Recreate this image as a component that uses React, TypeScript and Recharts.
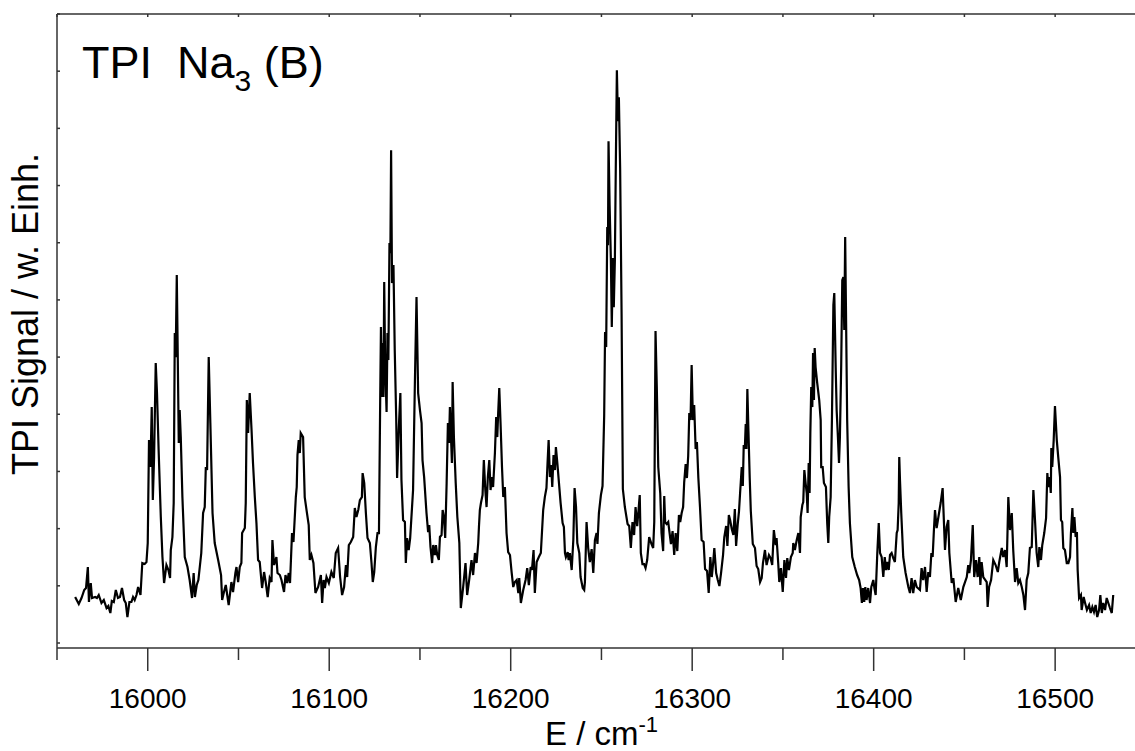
import React from 'react';
import { LineChart, Line, XAxis, YAxis } from 'recharts';

// TPI spectrum of Na3 (B): [energy / cm^-1, signal (arb. units)]
const SPECTRUM: [number, number][] = [
  [15960,46],[15962,39],[15963.5,45],[15965,53],[15966,55],[15967,76],[15967.6,41],[15968.6,60],[15969.3,45],[15971,46],
  [15972,45],[15973,48],[15974.5,40],[15975.8,43],[15977.3,35],[15978.3,37],[15979.4,30],[15980.2,42],[15981.3,41],[15982.4,53],
  [15983.6,45],[15984.7,46],[15985.8,55],[15987,43],[15987.9,40],[15988.8,26],[15989.9,41],[15991,41],[15991.9,46],[15992.8,43],
  [15993.8,48],[15994.7,56],[15996,48],[15997,80],[15998.3,79],[15999.3,81],[16000,100],[16000.7,203],[16001.5,176],[16002.2,236],
  [16002.8,143],[16003.5,186],[16004.4,280],[16005.1,250],[16006,193],[16007.2,126],[16008.1,86],[16009,60],[16010.3,78],[16011.4,73],
  [16012.3,65],[16012.7,93],[16013.6,106],[16014.3,140],[16014.9,310],[16015.4,286],[16016,368],[16016.5,293],[16017.1,200],[16017.6,233],
  [16018.2,206],[16019.1,146],[16020.4,86],[16021.9,76],[16023.1,63],[16024.4,45],[16025.3,70],[16026,46],[16027,58],[16027.9,63],
  [16029.5,90],[16030.5,130],[16031.4,136],[16032,176],[16032.7,173],[16033.6,286],[16034.5,220],[16035.7,130],[16036.9,100],[16038.8,83],
  [16040.4,68],[16041,43],[16042,51],[16043,58],[16044.6,38],[16046.1,61],[16047,51],[16048.3,70],[16048.9,76],[16049.8,61],
  [16050.7,76],[16051.6,80],[16052,110],[16053.5,115],[16054,140],[16054.6,243],[16055.3,210],[16056.2,250],[16057.2,213],[16058,180],
  [16059,146],[16059.9,120],[16060.8,83],[16061.7,81],[16063,55],[16064.1,71],[16065,61],[16066.1,46],[16067.2,65],[16068.2,61],
  [16068.7,103],[16069.6,78],[16070.9,86],[16071.5,70],[16072.8,68],[16073.7,63],[16075.1,51],[16075.9,68],[16076.8,60],[16077.7,70],
  [16078.4,60],[16079.5,110],[16080.3,101],[16081.6,146],[16082.1,156],[16082.5,188],[16083.2,203],[16083.8,190],[16084.3,210],[16085.6,206],
  [16086.5,146],[16087.5,133],[16088.7,118],[16089.3,83],[16090.2,88],[16091.3,80],[16092.4,50],[16093.9,56],[16095.4,68],[16096.1,40],
  [16096.9,63],[16097.6,55],[16098.5,66],[16099.8,60],[16101.2,71],[16102.5,65],[16103.6,90],[16104.9,95],[16106,66],[16107.1,48],
  [16108.2,56],[16109.2,78],[16109.9,66],[16110.8,98],[16111.9,101],[16113.2,106],[16114.1,135],[16115,126],[16116,133],[16116.9,143],
  [16118,146],[16118.4,170],[16119.3,160],[16120.2,130],[16121.1,105],[16122.4,100],[16123.3,80],[16124,61],[16124.8,71],[16125.7,96],
  [16126.6,110],[16127.4,110],[16128.1,246],[16128.5,316],[16129,246],[16129.4,300],[16129.9,246],[16130.3,361],[16130.8,280],[16131.6,231],
  [16132.1,310],[16132.6,283],[16133.2,400],[16133.7,390],[16134.1,493],[16134.6,360],[16135.4,378],[16136.1,293],[16136.9,226],[16137.4,165],
  [16138.3,213],[16139.2,250],[16139.8,163],[16140.7,123],[16141.7,121],[16142.2,80],[16142.9,105],[16143.8,93],[16144.6,105],[16146.2,153],
  [16147.2,260],[16148.1,346],[16149,250],[16150,233],[16150.9,220],[16151.4,183],[16152.3,166],[16153.6,130],[16154.5,111],[16155.1,118],
  [16155.8,96],[16156.7,80],[16157.3,98],[16158.2,88],[16158.8,98],[16159.5,88],[16160.4,83],[16161,106],[16161.9,108],[16162.5,133],
  [16163.2,126],[16163.9,105],[16164.7,160],[16165.4,220],[16166,200],[16166.5,236],[16167.1,206],[16167.6,180],[16168,261],[16168.7,206],
  [16169.7,160],[16170.6,126],[16171.7,100],[16172.5,35],[16173.8,56],[16175.1,80],[16176,48],[16177.1,63],[16178.4,83],[16179.3,68],
  [16180.3,90],[16181.2,80],[16182.1,100],[16182.5,116],[16183,133],[16183.6,140],[16184.5,148],[16185.2,183],[16186,153],[16186.7,136],
  [16187.4,166],[16188.2,183],[16188.9,153],[16189.6,166],[16190.3,156],[16191.3,190],[16192,226],[16192.6,206],[16193.1,230],[16193.7,255],
  [16194.4,220],[16195.2,176],[16195.9,146],[16196.8,156],[16197.7,110],[16198.6,91],[16199.6,88],[16200.5,71],[16201.4,56],[16202.3,61],
  [16203.3,63],[16204.2,50],[16204.7,65],[16205.6,40],[16206.9,53],[16208.2,63],[16209.1,75],[16210,58],[16211,76],[16211.7,73],
  [16212.6,93],[16213.3,50],[16214.3,81],[16215.5,86],[16216.6,90],[16217.9,133],[16218.8,146],[16219.7,155],[16220.3,180],[16220.9,203],
  [16221.6,166],[16222.3,178],[16222.9,156],[16223.6,188],[16224.4,173],[16224.9,196],[16225.7,180],[16226.6,160],[16227.5,140],[16228.6,120],
  [16229.3,116],[16229.9,90],[16230.4,86],[16231.4,91],[16231.9,83],[16232.6,90],[16233.6,73],[16234.5,103],[16235.2,155],[16236,136],
  [16236.7,100],[16237.8,90],[16238.5,66],[16239.7,55],[16240.5,53],[16240.9,61],[16241.8,121],[16242.7,95],[16243.6,81],[16244.6,94],
  [16245.5,70],[16246.4,103],[16247.3,110],[16247.8,99],[16248.6,130],[16249.7,148],[16250.6,157],[16251.5,227],[16252,311],[16252.6,296],
  [16253.2,416],[16253.6,398],[16253.9,502],[16254.5,438],[16255.2,383],[16255.7,316],[16256.3,385],[16256.8,336],[16257.4,383],[16257.9,475],
  [16258.5,573],[16259.1,522],[16259.6,546],[16260.3,475],[16261.1,329],[16261.8,154],[16262.9,136],[16264.4,119],[16265.3,117],[16266.2,95],
  [16267.1,121],[16268,108],[16268.8,136],[16269.7,117],[16270.4,132],[16271.1,148],[16271.7,90],[16272.6,79],[16273.5,79],[16274.3,75],
  [16275.2,83],[16276.3,106],[16277.6,99],[16278.5,95],[16279.1,121],[16279.8,312],[16280.5,256],[16281.3,176],[16282.4,150],[16283.1,110],
  [16284,92],[16284.6,147],[16285.1,121],[16285.9,119],[16286.8,121],[16288.3,99],[16289.2,112],[16290.1,88],[16290.9,110],[16291.8,92],
  [16292.7,128],[16293.4,121],[16294.2,130],[16295,136],[16295.6,161],[16296.4,179],[16297.1,165],[16297.8,187],[16298.4,230],[16299.1,223],
  [16299.7,278],[16300.4,223],[16301.1,238],[16301.9,194],[16302.6,201],[16303.4,165],[16304.3,136],[16305.2,103],[16306.3,101],[16307.1,74],
  [16308.2,72],[16309.1,50],[16310,86],[16310.8,66],[16311.5,79],[16312.2,95],[16313.2,70],[16314.1,63],[16315,57],[16315.9,70],
  [16317,88],[16317.7,106],[16318.7,117],[16319.4,97],[16320.2,128],[16320.9,123],[16321.8,114],[16322.7,108],[16323.5,134],[16324.2,97],
  [16325.1,119],[16325.8,132],[16326.4,150],[16327.3,176],[16327.9,157],[16328.4,198],[16329,194],[16329.5,219],[16329.9,194],[16330.4,254],
  [16331,212],[16331.7,165],[16332.3,132],[16333.4,99],[16334.6,95],[16335.5,77],[16336.4,74],[16337.4,61],[16338.3,65],[16339,80],
  [16340.1,93],[16341,78],[16342.3,88],[16343.2,85],[16344.1,78],[16345,113],[16346,98],[16346.5,105],[16347.4,80],[16348,61],
  [16348.9,75],[16349.9,51],[16350.8,83],[16351.7,65],[16352.4,85],[16353.3,73],[16354.4,86],[16355.4,90],[16355.7,100],[16356.6,93],
  [16357.6,103],[16358.5,110],[16359.4,90],[16359.8,126],[16360.7,138],[16361.2,141],[16361.8,173],[16362.5,160],[16363.1,150],[16363.6,130],
  [16364.2,180],[16364.7,150],[16365.1,210],[16365.6,256],[16366.2,236],[16366.6,290],[16367.1,243],[16367.5,295],[16368,276],[16368.9,260],
  [16370,243],[16370.8,223],[16371.1,176],[16371.9,176],[16372.6,160],[16373.7,156],[16374.4,120],[16375,100],[16375.5,126],[16376.3,146],
  [16377,223],[16377.8,338],[16378.3,350],[16379.1,273],[16379.6,233],[16380.3,206],[16380.9,180],[16381.4,206],[16382.1,276],[16382.7,363],
  [16383.3,366],[16383.8,313],[16384.3,406],[16384.7,340],[16385.4,223],[16386.2,156],[16386.9,120],[16388.2,86],[16389.6,76],[16390.9,68],
  [16392,63],[16392.8,55],[16393.5,40],[16394.1,55],[16394.8,41],[16395.4,56],[16396.1,43],[16397,55],[16398,40],[16398.7,56],
  [16399.8,63],[16400.4,55],[16401.1,48],[16402,90],[16402.8,120],[16403.5,90],[16404.4,86],[16405.3,66],[16406.1,86],[16406.8,73],
  [16407.5,81],[16408.3,73],[16409,88],[16409.9,90],[16410.8,85],[16411.7,81],[16412.7,110],[16413.2,113],[16413.8,140],[16414.1,186],
  [16414.5,163],[16415.2,130],[16416.3,86],[16417.6,70],[16419.1,56],[16420,50],[16420.9,65],[16421.8,50],[16422.7,63],[16423.7,56],
  [16425.5,53],[16426.4,75],[16427.3,63],[16428.3,76],[16429.2,51],[16430.1,71],[16431,66],[16431.8,90],[16432.5,86],[16433.2,113],
  [16433.8,133],[16434.7,115],[16436.9,140],[16438,155],[16439.3,93],[16440.2,116],[16441.1,123],[16441.7,90],[16443,60],[16443.9,65],
  [16445.2,41],[16446.6,55],[16448,43],[16449.4,56],[16451.3,66],[16452.1,78],[16452.7,70],[16453.6,83],[16454.6,118],[16455.4,66],
  [16456.4,83],[16457.3,66],[16458.2,86],[16458.8,58],[16459.5,81],[16460.4,66],[16462.3,61],[16462.8,36],[16463.6,56],[16464.7,63],
  [16465.9,83],[16467.2,78],[16468.4,71],[16469.2,81],[16470.6,95],[16471.4,86],[16472.4,93],[16473.3,76],[16474.2,146],[16475.1,113],
  [16476.1,130],[16476.9,93],[16477.9,61],[16478.8,75],[16479.7,60],[16480.6,63],[16481.6,56],[16482.5,48],[16483.4,33],[16484.3,63],
  [16485.2,70],[16486.1,95],[16487.1,96],[16488,153],[16488.9,123],[16489.8,90],[16490.7,76],[16491.3,96],[16492.2,83],[16492.9,98],
  [16494,110],[16495,125],[16495.7,170],[16496.2,156],[16497,166],[16497.6,150],[16497.9,195],[16498.4,176],[16499.2,203],[16499.9,237],
  [16500.9,203],[16501.7,186],[16502.7,166],[16503.2,123],[16503.9,121],[16504.5,95],[16505.4,93],[16506.4,80],[16507.3,80],[16508.2,86],
  [16508.7,110],[16509.5,135],[16510,110],[16510.6,126],[16511.3,106],[16512,111],[16512.4,73],[16513.2,45],[16514.2,48],[16514.6,33],
  [16515.7,46],[16516.5,40],[16517.5,33],[16518.7,38],[16519.6,30],[16520.5,36],[16521.4,31],[16522.3,38],[16523.2,26],[16524.2,33],
  [16524.9,48],[16525.7,30],[16526.5,40],[16527.5,33],[16528.4,45],[16529.3,40],[16530.2,35],[16531.2,30],[16532,48],
];

const X_TICKS = [15950, 16000, 16050, 16100, 16150, 16200, 16250, 16300, 16350, 16400, 16450, 16500];
const X_TICK_LABELS = [16000, 16100, 16200, 16300, 16400, 16500];
const Y_TICKS = [0, 57.2, 114.4, 171.6, 228.8, 286, 343.2, 400.4, 457.6, 514.8, 572, 629.2];
const X_DOMAIN: [number, number] = [15950, 16544];
const Y_DOMAIN: [number, number] = [-5, 629.2];

const FONT = '"Liberation Sans", Arial, Helvetica, sans-serif';
const AXIS_COLOR = '#333';

const chartData = SPECTRUM.map(([e, s]) => ({ e, s }));

function BottomTick(props: any) {
  const { x, y, payload } = props;
  const major = X_TICK_LABELS.includes(payload.value);
  return (
    <g>
      <line x1={x} x2={x} y1={y} y2={y + (major ? 23 : 12)} stroke={AXIS_COLOR} strokeWidth={1.5} />
      {major && (
        <text x={x} y={y + 60} textAnchor="middle" fontSize={28} fontFamily={FONT} fill="#000">
          {payload.value}
        </text>
      )}
    </g>
  );
}

function TopTick(props: any) {
  const { x, y } = props;
  return <line x1={x} x2={x} y1={y} y2={y + 3} stroke={AXIS_COLOR} strokeWidth={1.5} />;
}

function LeftTick(props: any) {
  const { x, y } = props;
  return <line x1={x} x2={x + 3} y1={y} y2={y} stroke={AXIS_COLOR} strokeWidth={1.5} />;
}

const XLabel = () => (
  <text x={545} y={745} fontSize={33} fontFamily={FONT} fill="#000">
    E / cm
    <tspan fontSize={22} dy={-13}>-1</tspan>
  </text>
);

const YLabel = () => (
  <text
    x={38}
    y={314}
    transform="rotate(-90 38 314)"
    textAnchor="middle"
    fontSize={36}
    fontFamily={FONT}
    fill="#000"
  >
    TPI Signal / w. Einh.
  </text>
);

const Title = () => (
  <text x={82} y={78} fontSize={45} fontFamily={FONT} fill="#000">
    {'TPI\u00A0 Na'}
    <tspan fontSize={30} dy={13}>3</tspan>
    <tspan fontSize={45} dy={-13}>{'\u00A0(B)'}</tspan>
  </text>
);

export default function App() {
  return (
    <div style={{ position: 'absolute', left: 0, top: 0, width: 1135, height: 751, background: '#fff' }}>
      <LineChart width={1135} height={751} data={chartData} margin={{ top: 0, right: 0, bottom: 0, left: 0 }}>
        <XAxis
          xAxisId="bottom"
          dataKey="e"
          type="number"
          domain={X_DOMAIN}
          ticks={X_TICKS}
          interval={0}
          orientation="bottom"
          height={103}
          tickSize={0}
          tickMargin={0}
          tickLine={false}
          tick={BottomTick}
          axisLine={{ stroke: AXIS_COLOR, strokeWidth: 1.5 }}
          allowDataOverflow
          label={{ content: XLabel }}
        />
        <XAxis
          xAxisId="top"
          dataKey="e"
          type="number"
          domain={X_DOMAIN}
          ticks={X_TICKS}
          interval={0}
          orientation="top"
          height={14}
          tickSize={0}
          tickMargin={0}
          tickLine={false}
          tick={TopTick}
          axisLine={{ stroke: AXIS_COLOR, strokeWidth: 1.5 }}
          allowDataOverflow
          label={{ content: Title }}
        />
        <YAxis
          yAxisId="left"
          type="number"
          domain={Y_DOMAIN}
          ticks={Y_TICKS}
          interval={0}
          width={57}
          tickSize={0}
          tickMargin={0}
          tickLine={false}
          tick={LeftTick}
          axisLine={{ stroke: AXIS_COLOR, strokeWidth: 1.5 }}
          allowDataOverflow
          label={{ content: YLabel }}
        />
        <Line
          xAxisId="bottom"
          yAxisId="left"
          dataKey="s"
          type="linear"
          stroke="#000"
          strokeWidth={2.2}
          dot={false}
          activeDot={false}
          isAnimationActive={false}
        />
      </LineChart>
    </div>
  );
}
